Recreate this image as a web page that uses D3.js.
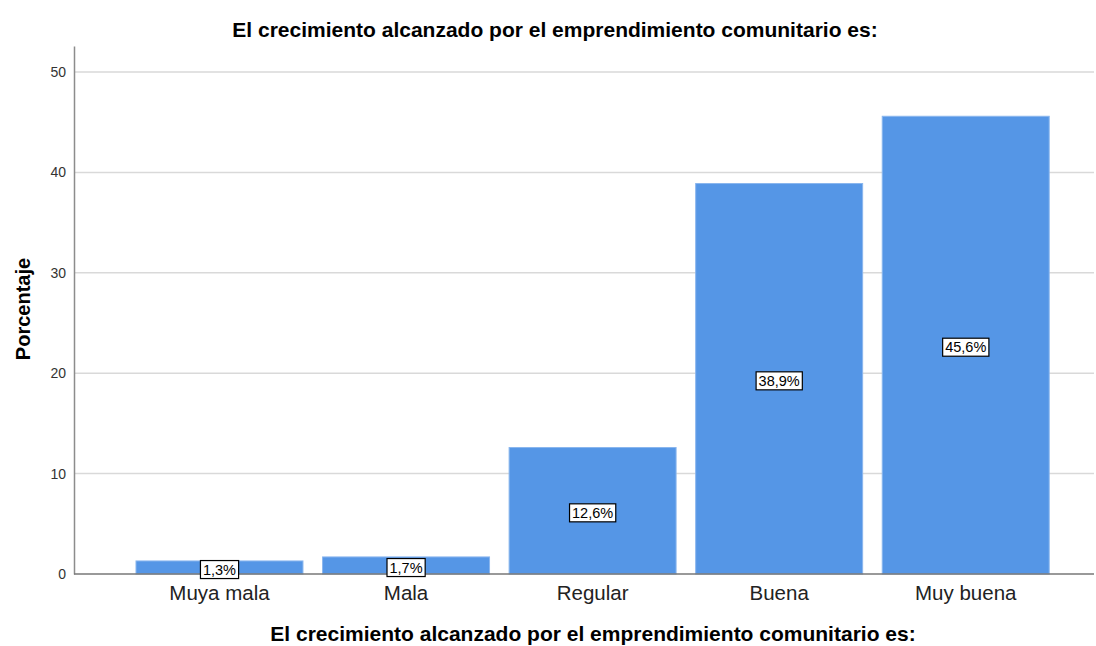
<!DOCTYPE html>
<html><head><meta charset="utf-8">
<script src="https://cdn.jsdelivr.net/npm/d3@7"></script>
<style>body{margin:0;background:#fff;} text{font-family:"Liberation Sans",Arial,sans-serif;}</style>
</head><body>
<svg id="c" width="1096" height="646"></svg>
<script>
const categories = ["Muya mala","Mala","Regular","Buena","Muy buena"];
const values = [1.3, 1.7, 12.6, 38.9, 45.6];
const labels = ["1,3%","1,7%","12,6%","38,9%","45,6%"];
const yTicks = [0,10,20,30,40,50];

const svg = d3.select("#c");
const x0 = 74, x1 = 1094, yBase = 574, yTop = 46;
const y = d3.scaleLinear().domain([0, 52.6]).range([yBase, yTop]);
const x = d3.scaleBand().domain(categories).range([126.2, 1059]).paddingInner(0.105).paddingOuter(0.0525);

// gridlines
svg.append("g").selectAll("line").data(yTicks.filter(d=>d>0)).join("line")
  .attr("x1", x0).attr("x2", x1).attr("y1", d=>y(d)).attr("y2", d=>y(d))
  .attr("stroke", "#d9d9d9").attr("stroke-width", 1.5);

// y axis
const ya = svg.append("g").attr("transform", `translate(${x0},0)`)
  .call(d3.axisLeft(y).tickValues(yTicks).tickSize(0).tickPadding(8));
ya.select(".domain").attr("stroke", "#8c8c8c").attr("stroke-width", 1.5);
ya.selectAll("text").attr("font-size", 14).attr("fill", "#333").attr("font-family", "Liberation Sans, Arial, sans-serif");

// bars
svg.append("g").selectAll("rect").data(values).join("rect")
  .attr("x", (d,i)=>x(categories[i])).attr("width", x.bandwidth())
  .attr("y", d=>y(d)).attr("height", d=>yBase - y(d))
  .attr("fill", "#5596e6").attr("stroke", "#8ab6ee").attr("stroke-width", 1);

// x axis
const xa = svg.append("g").attr("transform", `translate(0,${yBase})`)
  .call(d3.axisBottom(x).tickSize(0).tickPadding(11));
xa.select(".domain").remove();
svg.append("line").attr("x1", x0).attr("x2", x1).attr("y1", yBase).attr("y2", yBase)
  .attr("stroke", "#777").attr("stroke-width", 1.5);
xa.selectAll("text").attr("font-size", 20.5).attr("fill", "#222").attr("font-family", "Liberation Sans, Arial, sans-serif");

// value labels
const lg = svg.append("g").selectAll("g").data(values).join("g")
  .attr("transform", (d,i)=>`translate(${x(categories[i]) + x.bandwidth()/2},${y(d/2)+2})`);
lg.append("text").text((d,i)=>labels[i]).attr("text-anchor","middle").attr("dy","0.35em")
  .attr("font-size", 14.5).attr("fill", "#000")
  .each(function(){
    const b = this.getBBox();
    d3.select(this.parentNode).insert("rect","text")
      .attr("x", b.x-2.5).attr("y", b.y-1).attr("width", b.width+5).attr("height", b.height+2)
      .attr("fill","#fff").attr("stroke","#000").attr("stroke-width",1.2);
  });

// titles
svg.append("text").attr("x", 555).attr("y", 37).attr("text-anchor","middle")
  .attr("font-size", 21).attr("font-weight","bold").attr("fill","#000")
  .text("El crecimiento alcanzado por el emprendimiento comunitario es:");
svg.append("text").attr("x", 593).attr("y", 641).attr("text-anchor","middle")
  .attr("font-size", 21).attr("font-weight","bold").attr("fill","#000")
  .text("El crecimiento alcanzado por el emprendimiento comunitario es:");
svg.append("text").attr("transform","translate(30,309) rotate(-90)").attr("text-anchor","middle")
  .attr("font-size", 20).attr("font-weight","bold").attr("fill","#000")
  .text("Porcentaje");
</script>
</body></html>
